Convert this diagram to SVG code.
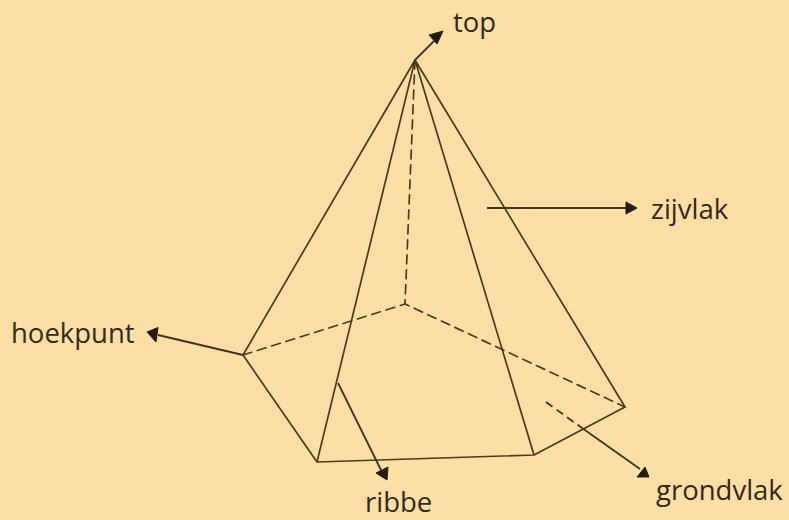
<svg xmlns="http://www.w3.org/2000/svg" width="789" height="520" viewBox="0 0 789 520">
<defs>
<style>
.e{stroke:#4a3a22;stroke-width:1.7;fill:none;stroke-linecap:round;stroke-linejoin:round}
.d{stroke-dasharray:9 6}
.a{stroke:#3f3322;stroke-width:1.8;fill:none}
.h{fill:#231c10;stroke:#231c10;stroke-width:1;stroke-linejoin:round}
text{font-family:"Open Sans","Noto Sans","Liberation Sans",sans-serif;font-size:27.5px;fill:#33291a}
</style>
</defs>
<rect id="background" width="789" height="520" fill="#fddfa5"/>
<g id="pyramid">
<path class="e" d="M243 355L415 60L317 462L243 355M317 462L534 455L625 407L415 60L534 455"/>
<path class="e d" d="M415 60L405 304M243 355L405 304L625 407"/>
</g>
<g id="connectors">
<path class="a" d="M415 60L434 41"/><polygon class="h" points="443,31 437,44 429,35"/>
<path class="a" d="M487 208L628 208"/><polygon class="h" points="637,208 626,202 626,214"/>
<path class="a" d="M243 355L158 335"/><polygon class="h" points="147,332 158,327.500 156,342"/>
<path class="a" d="M338 383L381 470"/><polygon class="h" points="387,480 376,473 388,467"/>
<path class="a" stroke-dasharray="8 5" d="M546 402L582 428"/>
<path class="a" d="M582 428L640 469"/><polygon class="h" points="649,477 637,477 645,467"/>
</g>
<g id="label-top"><text x="453" y="32">top</text></g>
<g id="label-zijvlak"><text x="651" y="219">zijvlak</text></g>
<g id="label-hoekpunt"><text x="11" y="343">hoekpunt</text></g>
<g id="label-ribbe"><text x="365" y="512">ribbe</text></g>
<g id="label-grondvlak"><text x="656" y="500">grondvlak</text></g>
</svg>
